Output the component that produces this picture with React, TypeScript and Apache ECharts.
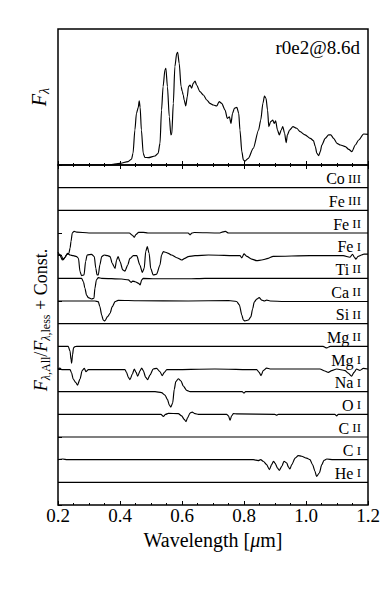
import React, { useEffect, useRef } from "react";
import * as echarts from "echarts";

const FONT = "Liberation Serif";
const X_MIN = 0.2;
const X_MAX = 1.2;
const X_STEP = 0.2;
const PANEL_LABEL = "r0e2@8.6d";
const X_NAME = "Wavelength [{i|μ}m]";

// Top panel spectrum (arbitrary flux units)
const FLUX_WL = [0.2, 0.367, 0.378, 0.399, 0.426, 0.437, 0.442, 0.448, 0.453, 0.459, 0.462, 0.465, 0.469, 0.475, 0.48, 0.491, 0.513, 0.523, 0.529, 0.534, 0.539, 0.545, 0.548, 0.553, 0.559, 0.564, 0.567, 0.572, 0.577, 0.583, 0.586, 0.591, 0.597, 0.601, 0.604, 0.607, 0.612, 0.617, 0.621, 0.626, 0.631, 0.636, 0.642, 0.647, 0.658, 0.669, 0.68, 0.69, 0.701, 0.712, 0.72, 0.728, 0.739, 0.746, 0.753, 0.758, 0.763, 0.769, 0.777, 0.783, 0.787, 0.793, 0.798, 0.803, 0.814, 0.83, 0.847, 0.854, 0.861, 0.866, 0.871, 0.876, 0.88, 0.886, 0.893, 0.897, 0.902, 0.908, 0.914, 0.92, 0.925, 0.931, 0.936, 0.94, 0.947, 0.958, 0.97, 0.981, 0.997, 1.014, 1.024, 1.03, 1.035, 1.041, 1.046, 1.051, 1.062, 1.073, 1.08, 1.089, 1.1, 1.111, 1.127, 1.138, 1.148, 1.159, 1.17, 1.186, 1.2];
const FLUX = [0, 0, 0.005, 0.012, 0.025, 0.042, 0.086, 0.257, 0.38, 0.424, 0.471, 0.424, 0.257, 0.086, 0.056, 0.054, 0.066, 0.086, 0.159, 0.404, 0.576, 0.699, 0.711, 0.576, 0.355, 0.221, 0.228, 0.453, 0.723, 0.821, 0.828, 0.748, 0.576, 0.539, 0.515, 0.478, 0.434, 0.502, 0.576, 0.588, 0.564, 0.6, 0.618, 0.588, 0.539, 0.515, 0.478, 0.453, 0.441, 0.434, 0.466, 0.453, 0.404, 0.343, 0.355, 0.306, 0.38, 0.417, 0.424, 0.38, 0.257, 0.098, 0.037, 0.029, 0.049, 0.123, 0.257, 0.331, 0.453, 0.507, 0.49, 0.404, 0.282, 0.319, 0.331, 0.306, 0.324, 0.257, 0.221, 0.257, 0.282, 0.233, 0.164, 0.221, 0.257, 0.282, 0.27, 0.245, 0.221, 0.196, 0.179, 0.135, 0.086, 0.069, 0.098, 0.147, 0.196, 0.221, 0.221, 0.196, 0.159, 0.147, 0.135, 0.115, 0.098, 0.147, 0.184, 0.228, 0.225];

// Bottom panel: ratio deviations [wavelength, deviation in units of offset step]
const FLAT: [number, number][] = [[0.2, 0], [1.2, 0]];
const CO_III = FLAT;
const FE_III = FLAT;
const FE_II: [number, number][] = [[0.2, -0.93], [0.21, -0.97], [0.217, -1.18], [0.222, -1.08], [0.228, -0.95], [0.235, -0.9], [0.239, -0.66], [0.242, -0.37], [0.246, 0.0], [0.252, 0.07], [0.26, 0.04], [0.3, 0.0], [0.43, 0], [0.44, -0.1], [0.446, -0.19], [0.452, -0.06], [0.46, 0.03], [0.475, 0.03], [0.49, 0], [0.62, 0], [0.626, -0.08], [0.632, 0], [0.64, 0.02], [0.72, 0], [0.732, 0.05], [0.74, 0.07], [0.75, 0], [1.2, 0]];
const FE_I: [number, number][] = [[0.2, 0.15], [0.206, 0.03], [0.214, -0.19], [0.222, -0.09], [0.231, 0.1], [0.239, 0.03], [0.249, 0], [0.26, -0.04], [0.266, -0.12], [0.271, -0.7], [0.276, -0.88], [0.284, -0.85], [0.289, -0.26], [0.294, 0.03], [0.308, 0.06], [0.317, -0.04], [0.322, -0.56], [0.326, -0.85], [0.33, -0.85], [0.335, -0.41], [0.341, -0.04], [0.349, 0.03], [0.36, 0], [0.368, -0.04], [0.375, -0.34], [0.384, -0.56], [0.389, -0.19], [0.394, -0.04], [0.4, -0.26], [0.409, -0.63], [0.416, -0.68], [0.425, -0.41], [0.432, -0.12], [0.443, 0], [0.454, 0], [0.464, -0.41], [0.472, -0.74], [0.478, -0.56], [0.483, 0.18], [0.488, 0.4], [0.494, 0.1], [0.499, -0.56], [0.507, -0.85], [0.518, -0.82], [0.529, -0.41], [0.534, 0.03], [0.54, 0.18], [0.547, 0.15], [0.556, 0.1], [0.566, 0.03], [0.583, -0.09], [0.599, -0.19], [0.609, -0.12], [0.62, -0.04], [0.642, 0], [0.685, 0.03], [0.787, 0.0], [0.793, -0.1], [0.8, 0.08], [0.809, -0.03], [0.825, -0.15], [0.841, -0.22], [0.857, -0.19], [0.878, -0.12], [0.894, -0.03], [1.013, 0], [1.12, 0], [1.142, -0.07], [1.15, 0.06], [1.156, -0.07], [1.161, -0.15], [1.168, -0.03], [1.179, 0.03], [1.187, 0.07], [1.2, 0.07]];
const TI_II: [number, number][] = [[0.2, 0], [0.276, 0], [0.282, -0.15], [0.287, -0.44], [0.292, -0.74], [0.298, -0.85], [0.308, -0.91], [0.316, -0.88], [0.319, -0.44], [0.324, -0.07], [0.33, 0.03], [0.341, 0], [0.405, -0.03], [0.427, -0.07], [0.436, -0.18], [0.441, -0.12], [0.449, -0.15], [0.46, -0.22], [0.465, -0.29], [0.47, -0.07], [0.475, 0], [0.513, -0.02], [0.62, -0.02], [0.674, 0], [1.2, 0]];
const CA_II: [number, number][] = [[0.2, 0], [0.319, 0], [0.33, -0.03], [0.335, -0.25], [0.341, -0.62], [0.346, -0.84], [0.351, -0.88], [0.36, -0.69], [0.368, -0.54], [0.375, -0.25], [0.384, -0.03], [0.394, 0.03], [0.459, 0.01], [0.62, 0], [0.75, 0.02], [0.776, -0.02], [0.785, -0.17], [0.793, -0.62], [0.798, -0.84], [0.803, -0.88], [0.814, -0.84], [0.822, -0.7], [0.828, -0.34], [0.833, -0.05], [0.841, 0.08], [0.849, 0.15], [0.857, 0.04], [0.866, 0.0], [0.873, 0.04], [0.884, 0.0], [0.93, -0.02], [1.2, -0.02]];
const SI_II = FLAT;
const MG_II: [number, number][] = [[0.2, 0], [0.233, 0], [0.239, -0.22], [0.242, -0.59], [0.244, -0.74], [0.247, -0.37], [0.25, -0.07], [0.255, -0.01], [0.26, 0], [1.055, 0], [1.067, -0.07], [1.078, 0], [1.2, 0]];
const MG_I: [number, number][] = [[0.2, 0], [0.206, 0.04], [0.212, -0.03], [0.239, -0.03], [0.244, -0.18], [0.249, -0.44], [0.257, -0.59], [0.263, -0.71], [0.271, -0.44], [0.278, -0.07], [0.285, 0.03], [0.29, -0.12], [0.298, -0.03], [0.416, -0.03], [0.421, -0.15], [0.427, -0.37], [0.432, -0.47], [0.44, -0.22], [0.446, 0], [0.452, -0.15], [0.457, -0.32], [0.465, -0.07], [0.47, 0.04], [0.475, -0.07], [0.483, -0.37], [0.489, -0.47], [0.497, -0.26], [0.507, 0], [0.518, 0.03], [0.529, -0.12], [0.536, -0.29], [0.543, -0.15], [0.551, -0.03], [0.706, 0], [0.841, -0.03], [0.849, -0.15], [0.855, -0.29], [0.862, -0.07], [0.873, 0.04], [0.884, 0], [1.045, 0], [1.061, -0.09], [1.072, -0.15], [1.083, -0.07], [1.099, 0], [1.126, -0.07], [1.136, -0.18], [1.147, -0.32], [1.155, -0.15], [1.163, 0], [1.174, -0.06], [1.185, 0.03], [1.2, 0]];
const NA_I: [number, number][] = [[0.2, 0], [0.513, 0], [0.534, -0.04], [0.545, -0.15], [0.553, -0.34], [0.559, -0.59], [0.564, -0.68], [0.57, -0.49], [0.575, 0.1], [0.58, 0.44], [0.588, 0.57], [0.597, 0.47], [0.604, 0.25], [0.615, 0.06], [0.626, 0], [0.794, 0], [0.8, -0.06], [0.805, 0], [1.2, 0]];
const O_I: [number, number][] = [[0.2, 0], [0.532, 0], [0.54, -0.09], [0.547, 0], [0.556, 0.04], [0.588, 0.03], [0.599, -0.07], [0.607, -0.22], [0.613, -0.32], [0.618, -0.15], [0.626, 0.06], [0.633, 0.1], [0.642, 0.03], [0.653, 0], [0.744, 0], [0.75, -0.07], [0.755, -0.26], [0.76, -0.07], [0.766, 0.03], [0.776, 0.02], [0.9, 0], [0.905, -0.04], [0.911, 0], [1.093, 0], [1.099, -0.07], [1.104, 0], [1.2, 0]];
const C_II = FLAT;
const C_I: [number, number][] = [[0.2, 0], [0.215, 0.03], [0.23, 0], [0.83, 0], [0.846, -0.04], [0.854, 0], [0.862, -0.07], [0.873, -0.22], [0.882, -0.44], [0.889, -0.22], [0.895, -0.07], [0.9, -0.15], [0.908, -0.37], [0.914, -0.47], [0.922, -0.29], [0.929, -0.07], [0.938, -0.15], [0.943, -0.32], [0.948, -0.41], [0.954, -0.22], [0.965, 0.07], [0.975, 0.18], [0.986, 0.15], [1.002, 0.07], [1.013, 0], [1.021, -0.22], [1.029, -0.51], [1.034, -0.74], [1.043, -0.59], [1.051, -0.22], [1.058, -0.03], [1.067, 0.03], [1.088, 0], [1.2, 0]];
const HE_I = FLAT;

const ION_ELEMENTS = ["Co", "Fe", "Fe", "Fe", "Ti", "Ca", "Si", "Mg", "Mg", "Na", "O", "C", "C", "He"];
const ION_STAGES = ["III", "III", "II", "I", "II", "II", "II", "II", "I", "I", "I", "II", "I", "I"];
const ION_OFFSETS = [14, 13, 12, 11, 10, 9, 8, 7, 6, 5, 4, 3, 2, 1];
const ION_DATA = [CO_III, FE_III, FE_II, FE_I, TI_II, CA_II, SI_II, MG_II, MG_I, NA_I, O_I, C_II, C_I, HE_I];

type Piece = { t: string; size: number; italic?: boolean; dy?: number };

let measureCtx: CanvasRenderingContext2D | null = null;
function measure(t: string, size: number, italic?: boolean) {
  if (!measureCtx) measureCtx = document.createElement("canvas").getContext("2d");
  if (!measureCtx) return t.length * size * 0.5;
  measureCtx.font = `${italic ? "italic " : ""}${size}px "Liberation Serif"`;
  return measureCtx.measureText(t).width;
}

function rotatedLabel(pieces: Piece[], cx: number, cy: number) {
  let x = 0;
  const children: any[] = [];
  for (const p of pieces) {
    children.push({
      type: "text",
      x,
      y: p.dy || 0,
      style: {
        text: p.t,
        fontSize: p.size,
        fontFamily: FONT,
        fontStyle: p.italic ? "italic" : "normal",
        fill: "#000",
        align: "left",
        verticalAlign: "middle",
      },
    });
    x += measure(p.t, p.size, p.italic);
  }
  return { type: "group", x: cx, y: cy + x / 2, rotation: Math.PI / 2, children };
}

export default function App() {
  const ref = useRef<HTMLDivElement>(null);
  useEffect(() => {
    if (!ref.current) return;
    const chart = echarts.init(ref.current, undefined, { renderer: "svg" });
    const tickStyle = { color: "#000", width: 1 };
    const baseX = {
      type: "value",
      min: X_MIN,
      max: X_MAX,
      interval: X_STEP,
      axisLine: { show: false },
      axisTick: { show: true, inside: true, length: 4, lineStyle: tickStyle },
      minorTick: { show: true, splitNumber: 4, length: 2, lineStyle: tickStyle },
      splitLine: { show: false },
      minorSplitLine: { show: false },
      axisLabel: { show: false },
    };
    const lineSeries = (data: number[][], xi: number, yi: number) => ({
      type: "line",
      xAxisIndex: xi,
      yAxisIndex: yi,
      data,
      symbol: "none",
      showSymbol: false,
      smooth: 0.25,
      smoothMonotone: "x",
      lineStyle: { color: "#000", width: 1.15 },
      silent: true,
    });
    const series: any[] = [
      lineSeries(FLUX_WL.map((w, i) => [w, FLUX[i]]), 0, 0),
      ...ION_DATA.map((d, k) => lineSeries(d.map(([w, v]) => [w, ION_OFFSETS[k] + v]), 1, 1)),
    ];
    const option: any = {
      animation: false,
      backgroundColor: "#fff",
      textStyle: { fontFamily: FONT },
      grid: [
        { left: 58, top: 29, width: 310, height: 136, show: true, borderColor: "#000", borderWidth: 1.5, backgroundColor: "transparent" },
        { left: 58, top: 165, width: 310, height: 340, show: true, borderColor: "#000", borderWidth: 1.5, backgroundColor: "transparent" },
      ],
      xAxis: [
        { ...baseX, gridIndex: 0, position: "bottom" },
        {
          ...baseX,
          gridIndex: 1,
          position: "bottom",
          axisLabel: { show: true, inside: false, margin: 1, fontSize: 19, color: "#000", fontFamily: FONT, formatter: (v: number) => v.toFixed(1) },
          name: X_NAME,
          nameLocation: "middle",
          nameGap: 12,
          nameTextStyle: { fontSize: 20, color: "#000", fontFamily: FONT, rich: { i: { fontSize: 20, fontStyle: "italic", fontFamily: FONT, color: "#000" } } },
        },
        { ...baseX, gridIndex: 1, position: "top" },
      ],
      yAxis: [
        { type: "value", gridIndex: 0, min: 0, max: 1, show: false },
        {
          type: "value",
          gridIndex: 1,
          min: 0,
          max: 15,
          interval: 1,
          axisLine: { show: false },
          axisTick: { show: true, inside: true, length: 4, lineStyle: tickStyle },
          axisLabel: { show: false },
          splitLine: { show: false },
        },
      ],
      series,
    };
    chart.setOption(option);

    const graphic: any[] = [];
    graphic.push({
      type: "text",
      x: 360,
      y: 47,
      style: { text: PANEL_LABEL, fontSize: 19, fontFamily: FONT, fill: "#000", align: "right", verticalAlign: "middle" },
    });
    graphic.push(rotatedLabel([{ t: "F", size: 20, italic: true }, { t: "λ", size: 14, italic: true, dy: 5 }], 39, 97));
    graphic.push(
      rotatedLabel(
        [
          { t: "F", size: 18, italic: true },
          { t: "λ", size: 12, italic: true, dy: 5 },
          { t: ",All", size: 12, dy: 5 },
          { t: "/", size: 18 },
          { t: "F", size: 18, italic: true },
          { t: "λ", size: 12, italic: true, dy: 5 },
          { t: ",less", size: 12, dy: 5 },
          { t: " + Const.", size: 18 },
        ],
        41,
        320
      )
    );
    const rightX = 361;
    ION_ELEMENTS.forEach((el, k) => {
      const p = chart.convertToPixel({ gridIndex: 1 }, [X_MAX, ION_OFFSETS[k]]) as number[];
      const stage = ION_STAGES[k];
      const stW = measure(stage, 13);
      const spW = measure(" ", 16);
      graphic.push({
        type: "text",
        x: rightX,
        y: p[1] - 3,
        style: { text: stage, fontSize: 13, fontFamily: FONT, fill: "#000", align: "right", verticalAlign: "bottom" },
      });
      graphic.push({
        type: "text",
        x: rightX - stW - spW * 0.8,
        y: p[1] - 1,
        style: { text: el, fontSize: 16, fontFamily: FONT, fill: "#000", align: "right", verticalAlign: "bottom" },
      });
    });
    chart.setOption({ graphic });

    return () => chart.dispose();
  }, []);
  return <div ref={ref} style={{ position: "fixed", left: 0, top: 0, width: 387, height: 595, background: "#fff" }} />;
}
